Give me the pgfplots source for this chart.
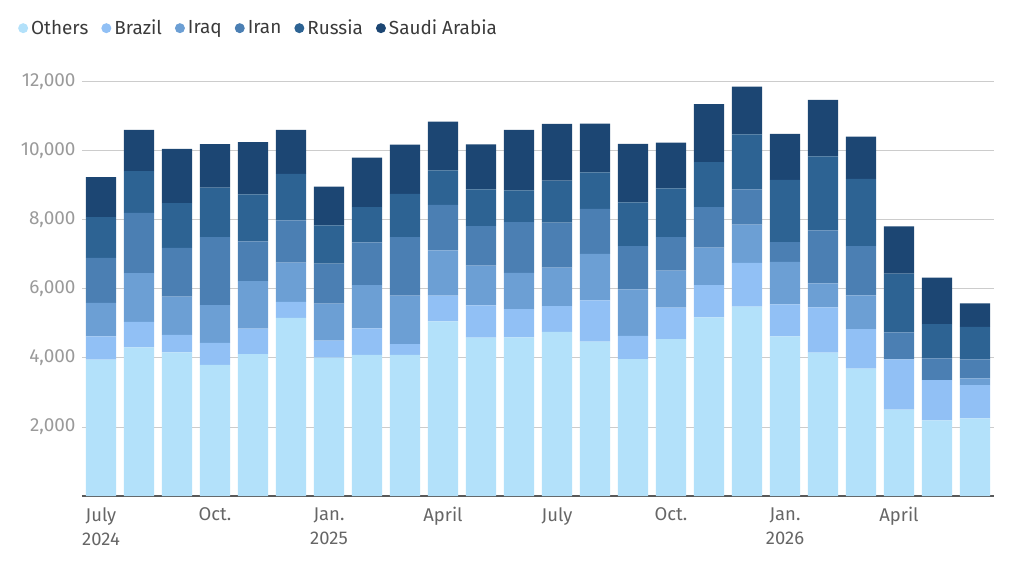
\documentclass[border=0pt]{standalone}
\usepackage{pgfplots}
\pgfplotsset{compat=1.18}
\usepackage{pgfplotstable}
\usepackage{fontspec}
\setmainfont{Fira Sans}
\definecolor{cO}{HTML}{B3E1FA}
\definecolor{cB}{HTML}{91C0F5}
\definecolor{cIq}{HTML}{6C9FD4}
\definecolor{cIn}{HTML}{4B7FB3}
\definecolor{cR}{HTML}{2D6393}
\definecolor{cS}{HTML}{1C4673}
\definecolor{gridc}{HTML}{CCCCCC}
\definecolor{ylab}{HTML}{9A9A9A}
\definecolor{xlab}{HTML}{666666}
\definecolor{leg}{HTML}{3A3A3A}

\pgfplotstableread{
x O B Iq In R S
0 3950 680 970 1300 1180 1160
1 4310 740 1410 1750 1210 1190
2 4165 505 1110 1410 1300 1570
3 3800 635 1100 1965 1440 1260
4 4110 740 1380 1150 1365 1515
5 5160 465 1140 1225 1345 1275
6 4010 490 1075 1160 1110 1120
7 4090 770 1255 1240 1020 1430
8 4090 315 1400 1695 1255 1430
9 5065 740 1315 1315 1005 1410
10 4590 935 1150 1150 1065 1305
11 4600 820 1045 1475 920 1750
12 4755 750 1115 1305 1215 1645
13 4475 1195 1345 1305 1060 1410
14 3970 670 1350 1255 1265 1700
15 4550 910 1070 970 1420 1320
16 5180 935 1085 1170 1310 1675
17 5490 1265 1110 1025 1595 1380
18 4630 925 1230 575 1800 1335
19 4155 1315 695 1535 2145 1635
20 3690 1150 975 1430 1945 1225
21 2500 1460 0 785 1700 1370
22 2195 1165 0 630 995 1345
23 2250 965 195 550 940 685
}\data

\begin{document}
\begin{tikzpicture}
\path[use as bounding box] (-82bp,-65bp) rectangle (938bp,496bp);
\begin{axis}[
  at={(0,0)}, anchor=south west,
  scale only axis, width=912bp, height=414bp,
  ybar stacked, bar width=0.79,
  xmin=-0.5, xmax=23.5, ymin=0, ymax=12000,
  axis x line*=bottom,
  axis y line*=left,
  x axis line style={draw=black!65, line width=1.6bp},
  y axis line style={draw=none},
  ymajorgrids,
  grid style={draw=gridc, line width=1bp},
  major tick length=0pt,
  ytick={2000,4000,6000,8000,10000,12000},
  scaled y ticks=false,
  yticklabel={\pgfmathprintnumber[fixed,precision=0,1000 sep={,},assume math mode=true]{\tick}},
  yticklabel style={font=\fontsize{19}{20}\selectfont, text=ylab, xshift=-3bp},
  xtick={0,3,6,9,12,15,18,21},
  xticklabels={{July\\2024},{Oct.},{Jan.\\2025},{April},{July},{Oct.},{Jan.\\2026},{April}},
  xticklabel style={font=\fontsize{18.5}{24}\selectfont, text=xlab, align=center, yshift=-8bp},
  legend style={at={(-0.0735,1.13)}, anchor=west, legend columns=-1, draw=none, fill=none,
    font=\fontsize{19}{20}\selectfont, text=leg,
    /tikz/every even column/.append style={column sep=11bp},
    /tikz/every odd column/.append style={column sep=1bp}},
  legend image code/.code={\fill[#1] (3bp,0bp) circle (5bp);},
  every axis plot/.append style={draw=none},
  clip=false,
]
\addplot[fill=cO] table[x=x,y=O]{\data};
\addplot[fill=cB] table[x=x,y=B]{\data};
\addplot[fill=cIq] table[x=x,y=Iq]{\data};
\addplot[fill=cIn] table[x=x,y=In]{\data};
\addplot[fill=cR] table[x=x,y=R]{\data};
\addplot[fill=cS] table[x=x,y=S]{\data};
\legend{Others,Brazil,Iraq,Iran,Russia,Saudi Arabia}
\end{axis}
\end{tikzpicture}
\end{document}
